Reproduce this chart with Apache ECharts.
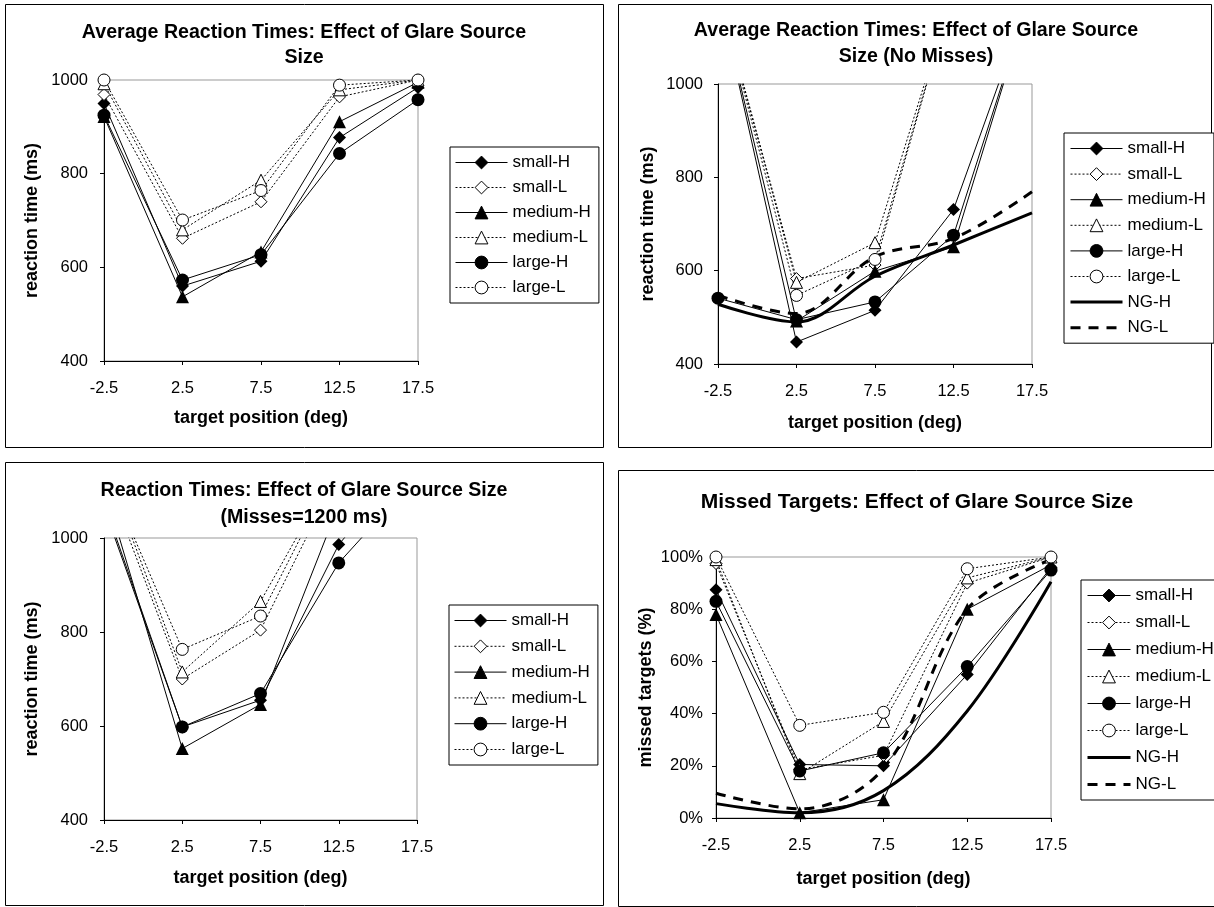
<!DOCTYPE html>
<html lang="en">

<head>
  <meta charset="UTF-8">
  <title>Glare Source Size</title>
  <style>
    html, body { margin: 0; padding: 0; background: #fff; }
    #main { width: 1214px; height: 907px; }
  </style>
</head>

<body>
  <div id="main"></div>
  <script src="https://cdn.jsdelivr.net/npm/echarts@6/dist/echarts.min.js"></script>
  <script>
    const myChart = echarts.init(document.getElementById('main'));

    // target positions (deg) - category axis
    const positions = ['-2.5', '2.5', '7.5', '12.5', '17.5'];

    // panel 1: average reaction times (ms)
    const avgSmallH = [950, 560, 613, 877, 984];
    const avgSmallL = [969, 662, 740, 964, 1000];
    const avgMediumH = [922, 537, 633, 911, 995];
    const avgMediumL = [992, 680, 786, 979, 1000];
    const avgLargeH = [925, 573, 627, 843, 958];
    const avgLargeL = [1000, 701, 764, 989, 1000];

    // panel 2: average reaction times, no misses (ms)
    const nmSmallH = [1200, 447, 515, 731, 1200];
    const nmSmallL = [1200, 583, 612, 1200, 1200];
    const nmMediumH = [1200, 492, 599, 651, 1200];
    const nmMediumL = [1200, 575, 660, 1200, 1200];
    const nmLargeH = [541, 495, 533, 676, 1200];
    const nmLargeL = [1200, 547, 624, 1200, 1200];
    const nmNgH = [528, 490, 588, 655, 724];
    const nmNgL = [547, 508, 630, 669, 769];

    // panel 3: reaction times, misses = 1200 ms
    const m12SmallH = [1075, 598, 655, 986, 1185];
    const m12SmallL = [1140, 700, 804, 1140, 1200];
    const m12MediumH = [1110, 552, 646, 1070, 1185];
    const m12MediumL = [1160, 715, 865, 1160, 1200];
    const m12LargeH = [1065, 598, 669, 947, 1130];
    const m12LargeL = [1150, 763, 834, 1160, 1200];

    // panel 4: missed targets (%)
    const missSmallH = [87.5, 20.5, 20, 55, 96];
    const missSmallL = [97.5, 18.5, 24, 90, 100];
    const missMediumH = [78, 2, 7, 80, 97];
    const missMediumL = [99, 17, 37, 92, 100];
    const missLargeH = [83, 18, 25, 58, 95];
    const missLargeL = [100, 35.5, 40.5, 95.5, 100];
    const missNgH = [5.5, 2, 10.5, 41, 90.5];
    const missNgL = [9.5, 3.5, 19, 80, 99];

    const FONT = '"Liberation Sans", Arial, sans-serif';

    // marker / line look of each condition
    const looks = {
      'small-H': { symbol: 'diamond', open: false, dash: 'solid' },
      'small-L': { symbol: 'diamond', open: true, dash: [2, 2] },
      'medium-H': { symbol: 'triangle', open: false, dash: 'solid' },
      'medium-L': { symbol: 'triangle', open: true, dash: [2, 2] },
      'large-H': { symbol: 'circle', open: false, dash: 'solid' },
      'large-L': { symbol: 'circle', open: true, dash: [2, 2] },
      'NG-H': { ng: true, dash: 'solid' },
      'NG-L': { ng: true, dash: [10, 8] }
    };

    function line(name, data, idx) {
      const lk = looks[name];
      if (lk.ng) {
        return {
          name, type: 'line', data, xAxisIndex: idx, yAxisIndex: idx,
          symbol: 'none', smooth: 0.35, z: 3,
          lineStyle: { color: '#000', width: 3, type: lk.dash },
          itemStyle: { color: '#000' }
        };
      }
      return {
        name, type: 'line', data, xAxisIndex: idx, yAxisIndex: idx,
        symbol: lk.symbol, symbolSize: lk.open ? 12 : 13, z: 4,
        lineStyle: { color: '#000', width: 1, type: lk.dash },
        itemStyle: lk.open ? { color: '#fff', borderColor: '#000', borderWidth: 1 } : { color: '#000' }
      };
    }

    // legend entries: thin lines with marker, NG lines thick without marker
    function legendItem(name) {
      const lk = looks[name];
      if (lk.ng) {
        return { name, itemStyle: { opacity: 0 }, lineStyle: { width: 3, color: '#000', type: lk.dash } };
      }
      return {
        name,
        itemStyle: { borderWidth: 1, borderColor: '#000' },
        lineStyle: { width: 1, color: '#000', type: lk.dash }
      };
    }
    const sixNames = ['small-H', 'small-L', 'medium-H', 'medium-L', 'large-H', 'large-L'];
    const eightNames = sixNames.concat(['NG-H', 'NG-L']);

    // panel frames + plot areas
    const frames = [
      [5.5, 4.5, 598, 443],
      [618.5, 4.5, 593, 443],
      [5.5, 462.5, 598, 443],
      [618.5, 470.5, 600, 436]
    ];
    const grids = [
      { left: 104, top: 80, width: 314, height: 281 },
      { left: 718, top: 84, width: 314, height: 280 },
      { left: 104, top: 538, width: 313, height: 282 },
      { left: 716, top: 557, width: 335, height: 261 }
    ];

    function xAxis(i, nameGap) {
      return {
        type: 'category', gridIndex: i, data: positions, boundaryGap: false,
        axisLine: { lineStyle: { color: '#000', width: 1 } },
        axisTick: { show: true, length: 4, lineStyle: { color: '#000' } },
        axisLabel: { color: '#000', fontSize: 16.5, margin: 19, fontFamily: FONT },
        splitLine: { show: false },
        name: 'target position (deg)', nameLocation: 'middle', nameGap,
        nameTextStyle: { color: '#000', fontSize: 18, fontWeight: 'bold', fontFamily: FONT }
      };
    }
    function yAxis(i, name, min, max, step, fmt, margin, nameGap) {
      return {
        type: 'value', gridIndex: i, min, max, interval: step,
        axisLine: { show: true, lineStyle: { color: '#000', width: 1 } },
        axisTick: { show: true, length: 4, lineStyle: { color: '#000' } },
        axisLabel: { color: '#000', fontSize: 16.5, margin, formatter: fmt, fontFamily: FONT },
        splitLine: { show: false },
        name, nameLocation: 'middle', nameGap,
        nameTextStyle: { color: '#000', fontSize: 18, fontWeight: 'bold', fontFamily: FONT }
      };
    }
    function legend(left, top, names, itemWidth, itemGap) {
      return {
        orient: 'vertical', left, top, data: names.map(legendItem), itemWidth, itemHeight: 16, itemGap,
        padding: [7, 8, 7, 5], borderColor: '#000', borderWidth: 1, borderRadius: 0,
        backgroundColor: '#fff', selectedMode: false,
        textStyle: { color: '#000', fontSize: 17, fontFamily: FONT }
      };
    }
    function title(text, left, top, size, lh) {
      return {
        text, left, top, textAlign: 'center', padding: 0,
        textStyle: { color: '#000', fontSize: size, fontWeight: 'bold', lineHeight: lh, fontFamily: FONT }
      };
    }

    const msLabel = v => String(v);
    const pctLabel = v => v + '%';

    const option = {
      animation: false,
      backgroundColor: '#fff',
      textStyle: { fontFamily: FONT },
      graphic: frames.map(f => ({
        type: 'rect', silent: true, z: -10,
        shape: { x: f[0], y: f[1], width: f[2], height: f[3] },
        style: { fill: null, stroke: '#000', lineWidth: 1 }
      })),
      title: [
        title('Average Reaction Times: Effect of Glare Source\nSize', 304, 20, 19.6, 25),
        title('Average Reaction Times: Effect of Glare Source\nSize (No Misses)', 916, 18, 19.6, 26),
        title('Reaction Times: Effect of Glare Source Size\n(Misses=1200 ms)', 304, 477, 19.6, 27),
        title('Missed Targets: Effect of Glare Source Size', 917, 490, 21, 24)
      ],
      legend: [
        legend(450, 147, sixNames, 52, 8),
        legend(1064, 133, eightNames, 52, 8.6),
        legend(449, 605, sixNames, 52, 8.8),
        legend(1081, 580, eightNames, 43, 10)
      ],
      grid: grids.map(g => Object.assign({ show: true, borderColor: '#999', borderWidth: 1 }, g)),
      xAxis: [xAxis(0, 48), xAxis(1, 50), xAxis(2, 49), xAxis(3, 52)],
      yAxis: [
        yAxis(0, 'reaction time (ms)', 400, 1000, 200, msLabel, 16, 63),
        yAxis(1, 'reaction time (ms)', 400, 1000, 200, msLabel, 15, 61),
        yAxis(2, 'reaction time (ms)', 400, 1000, 200, msLabel, 16, 63),
        yAxis(3, 'missed targets (%)', 0, 100, 20, pctLabel, 13, 61)
      ],
      series: [
        line('small-H', avgSmallH, 0), line('small-L', avgSmallL, 0),
        line('medium-H', avgMediumH, 0), line('medium-L', avgMediumL, 0),
        line('large-H', avgLargeH, 0), line('large-L', avgLargeL, 0),

        line('small-H', nmSmallH, 1), line('small-L', nmSmallL, 1),
        line('medium-H', nmMediumH, 1), line('medium-L', nmMediumL, 1),
        line('large-H', nmLargeH, 1), line('large-L', nmLargeL, 1),
        line('NG-H', nmNgH, 1), line('NG-L', nmNgL, 1),

        line('small-H', m12SmallH, 2), line('small-L', m12SmallL, 2),
        line('medium-H', m12MediumH, 2), line('medium-L', m12MediumL, 2),
        line('large-H', m12LargeH, 2), line('large-L', m12LargeL, 2),

        line('small-H', missSmallH, 3), line('small-L', missSmallL, 3),
        line('medium-H', missMediumH, 3), line('medium-L', missMediumL, 3),
        line('large-H', missLargeH, 3), line('large-L', missLargeL, 3),
        line('NG-H', missNgH, 3), line('NG-L', missNgL, 3)
      ]
    };

    myChart.setOption(option);
  </script>
</body>

</html>
